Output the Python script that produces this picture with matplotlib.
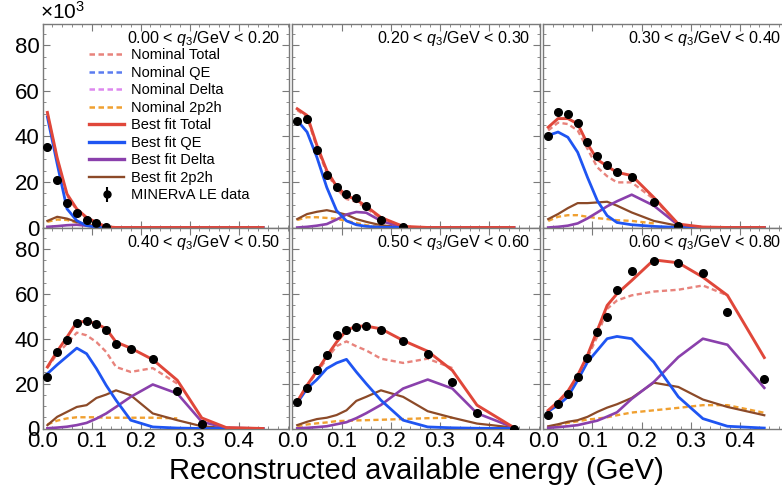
import numpy as np
import matplotlib
matplotlib.use('Agg')
import matplotlib.pyplot as plt
from matplotlib.ticker import MultipleLocator

plt.rcParams['font.family'] = ['Liberation Sans', 'DejaVu Sans']
plt.rcParams['mathtext.fontset'] = 'custom'
plt.rcParams['mathtext.rm'] = 'Liberation Sans'
plt.rcParams['mathtext.it'] = 'Liberation Sans:italic'

# bin centres of reconstructed available energy (GeV)
x_bins = [0.01, 0.03, 0.05, 0.07, 0.09, 0.11, 0.13, 0.15, 0.18, 0.225, 0.275, 0.325, 0.375, 0.45]

q3_ranges = [('0.00', '0.20'), ('0.20', '0.30'), ('0.30', '0.40'),
             ('0.40', '0.50'), ('0.50', '0.60'), ('0.60', '0.80')]

# values in units of 10^3
data_1 = [35.5, 21.0, 10.7, 6.3, 3.4, 1.8, 0.3]
fit_total_1 = [50.5, 30.5, 14.7, 8.1, 4.4, 2.2, 0.3, 0, 0, 0, 0, 0, 0, 0]
fit_qe_1 = [48.5, 27.9, 8.2, 3.0, 0.8, 0.2, 0, 0, 0, 0, 0, 0, 0, 0]
fit_delta_1 = [0.3, 0.6, 1.0, 1.2, 0.8, 0.3, 0, 0, 0, 0, 0, 0, 0, 0]
fit_2p2h_1 = [2.9, 4.7, 3.9, 2.4, 1.2, 0.5, 0.1, 0, 0, 0, 0, 0, 0, 0]
nom_total_1 = [50.0, 30.0, 14.0, 7.6, 4.0, 2.0, 0.3]
nom_2p2h_1 = [2.5, 3.5, 3.3, 2.2, 1.2, 0.5, 0.1]

data_2 = [46.7, 47.4, 34.2, 23.1, 17.6, 14.7, 12.9, 9.3, 3.4, 0.3]
fit_total_2 = [52.1, 49.2, 36.0, 25.0, 18.0, 14.0, 12.2, 9.3, 4.4, 0.5, 0, 0, 0, 0]
fit_qe_2 = [47.0, 41.9, 30.8, 17.6, 7.4, 2.9, 1.2, 0.5, 0.1, 0, 0, 0, 0, 0]
fit_delta_2 = [0.0, 0.3, 0.8, 1.5, 3.5, 5.7, 6.8, 6.5, 2.9, 0, 0, 0, 0, 0]
fit_2p2h_2 = [3.7, 5.9, 6.9, 7.6, 6.7, 5.6, 3.7, 2.5, 1.0, 0, 0, 0, 0, 0]
nom_total_2 = [51.5, 48.5, 35.0, 24.0, 17.0, 12.5, 11.3, 8.5, 4.0, 0.5]
nom_2p2h_2 = [3.3, 4.5, 4.5, 4.2, 3.8, 2.9, 2.0, 1.0, 0.3]

data_3 = [40.0, 50.7, 50.0, 46.0, 37.4, 31.3, 27.6, 24.5, 22.0, 11.0, 0.5]
fit_total_3 = [44.0, 47.8, 47.8, 45.5, 36.7, 29.8, 26.9, 24.2, 22.8, 13.2, 1.5, 0.2, 0, 0]
fit_qe_3 = [40.4, 41.9, 39.6, 33.0, 22.0, 11.8, 5.2, 2.2, 1.2, 0.5, 0, 0, 0, 0]
fit_delta_3 = [0.0, 0.3, 0.8, 1.8, 4.0, 6.6, 9.3, 11.5, 14.4, 9.6, 1.0, 0, 0, 0]
fit_2p2h_3 = [3.7, 5.9, 8.5, 10.7, 10.7, 11.0, 11.3, 9.6, 6.6, 2.9, 0.7, 0, 0, 0]
nom_total_3 = [42.6, 46.0, 45.4, 42.6, 34.5, 26.4, 22.5, 19.8, 19.8, 12.5, 1.5]
nom_2p2h_3 = [2.9, 4.7, 5.4, 5.4, 4.7, 4.1, 3.7, 3.2, 2.9, 1.8]

data_4 = [22.9, 34.1, 39.5, 46.9, 48.1, 46.7, 43.7, 37.8, 35.5, 30.8, 16.6, 1.9]
fit_total_4 = [27.4, 34.4, 40.7, 47.4, 47.7, 46.7, 44.4, 38.5, 35.8, 30.7, 21.5, 4.7, 0.4, 0]
fit_qe_4 = [24.4, 28.4, 32.1, 35.8, 33.3, 26.7, 19.2, 12.6, 3.7, 0.7, 0.2, 0, 0, 0]
fit_delta_4 = [0.1, 0.4, 0.8, 1.5, 2.5, 4.4, 6.7, 9.6, 14.1, 19.6, 15.6, 3.0, 0.3, 0]
fit_2p2h_4 = [1.5, 5.2, 7.4, 9.6, 10.4, 13.6, 15.1, 17.0, 14.8, 6.7, 3.7, 1.0, 0.2, 0]
nom_total_4 = [27.0, 33.3, 37.8, 42.7, 41.5, 38.5, 34.1, 27.4, 25.2, 26.9, 20.0]
nom_2p2h_4 = [1.8, 3.5, 4.5, 5.0, 5.0, 5.0, 4.8, 4.8, 4.8, 4.8, 4.5]

data_5 = [11.6, 18.2, 26.2, 32.6, 41.8, 44.0, 45.2, 45.5, 44.0, 38.8, 33.3, 20.7, 6.7, 0.0]
fit_total_5 = [12.0, 19.3, 25.6, 32.3, 38.5, 43.7, 45.6, 45.6, 44.4, 39.2, 34.4, 25.9, 10.4, 0.4]
fit_qe_5 = [11.4, 17.8, 21.8, 26.7, 29.2, 30.8, 25.2, 20.0, 12.6, 3.7, 0.7, 0.3, 0.1, 0]
fit_delta_5 = [0.1, 0.3, 0.6, 1.0, 1.9, 2.8, 4.6, 6.8, 10.5, 17.8, 21.8, 17.8, 6.8, 0.4]
fit_2p2h_5 = [1.5, 3.0, 4.2, 4.8, 6.0, 8.1, 12.3, 14.1, 17.0, 14.1, 7.7, 4.8, 2.2, 0.4]
nom_total_5 = [12.0, 19.0, 25.0, 31.0, 36.7, 38.8, 36.6, 34.8, 31.1, 29.2, 31.1, 26.9]
nom_2p2h_5 = [1.0, 1.8, 2.3, 2.7, 3.3, 3.4, 3.6, 3.7, 3.9, 4.2, 4.6, 4.8]

data_6 = [5.9, 10.8, 15.5, 22.9, 31.4, 43.2, 49.6, 61.5, 70.1, 74.8, 73.6, 69.2, 52.1, 21.9]
fit_total_6 = [8.1, 11.9, 16.6, 23.7, 32.6, 43.7, 54.8, 60.0, 65.9, 75.1, 73.8, 67.4, 59.3, 31.6]
fit_qe_6 = [7.6, 10.4, 14.1, 21.5, 29.6, 34.8, 40.0, 41.0, 40.0, 29.6, 14.1, 4.4, 1.0, 0.2]
fit_delta_6 = [0.3, 0.6, 1.0, 1.5, 2.5, 3.5, 5.3, 7.2, 13.2, 20.7, 31.8, 40.0, 37.3, 18.1]
fit_2p2h_6 = [1.0, 1.9, 3.0, 3.7, 5.2, 7.4, 9.3, 10.8, 13.6, 20.4, 18.5, 12.9, 9.6, 5.9]
nom_total_6 = [8.0, 11.5, 16.0, 23.0, 31.5, 41.0, 53.3, 57.0, 59.3, 61.0, 61.8, 63.7, 59.3]
nom_2p2h_6 = [0.5, 1.5, 2.5, 3.2, 4.0, 4.4, 5.0, 5.9, 7.1, 8.1, 9.2, 10.4, 10.4, 7.0]

panels = [
    (data_1, fit_total_1, fit_qe_1, fit_delta_1, fit_2p2h_1, nom_total_1, nom_2p2h_1),
    (data_2, fit_total_2, fit_qe_2, fit_delta_2, fit_2p2h_2, nom_total_2, nom_2p2h_2),
    (data_3, fit_total_3, fit_qe_3, fit_delta_3, fit_2p2h_3, nom_total_3, nom_2p2h_3),
    (data_4, fit_total_4, fit_qe_4, fit_delta_4, fit_2p2h_4, nom_total_4, nom_2p2h_4),
    (data_5, fit_total_5, fit_qe_5, fit_delta_5, fit_2p2h_5, nom_total_5, nom_2p2h_5),
    (data_6, fit_total_6, fit_qe_6, fit_delta_6, fit_2p2h_6, nom_total_6, nom_2p2h_6),
]

c_total = '#e0473a'
c_qe = '#1f55f2'
c_delta = '#8a40ac'
c_2p2h = '#8c4a28'
c_nom_total = '#e8837c'
c_nom_qe = '#5b7cf0'
c_nom_delta = '#dd88ee'
c_nom_2p2h = '#f0a030'
frame_col = '#7a7a7a'

W, H = 782, 501
fig = plt.figure(figsize=(W / 100, H / 100), dpi=100)

# panel boxes in pixels: left, top, right, bottom
col_px = [(42.5, 289.0), (292.3, 540.0), (543.3, 790.3)]
row_px = [(24.0, 227.5), (228.0, 428.5)]

dash = (0, (2.2, 1.4))

for k, vals in enumerate(panels):
    r, c = divmod(k, 3)
    x0, x1 = col_px[c]
    y0, y1 = row_px[r]
    ax = fig.add_axes([x0 / W, 1 - y1 / H, (x1 - x0) / W, (y1 - y0) / H])
    data, tot, qe, dl, mec, ntot, nmec = vals

    ax.plot(x_bins[:len(ntot)], ntot, color=c_nom_total, lw=1.7, ls=dash, zorder=2)
    ax.plot(x_bins[:len(nmec)], nmec, color=c_nom_2p2h, lw=1.7, ls=dash, zorder=2)
    ax.plot(x_bins[:len(mec)], mec, color=c_2p2h, lw=1.6, zorder=3)
    ax.plot(x_bins[:len(dl)], dl, color=c_delta, lw=1.9, zorder=3)
    ax.plot(x_bins[:len(qe)], qe, color=c_qe, lw=2.0, zorder=4)
    ax.plot(x_bins[:len(tot)], tot, color=c_total, lw=2.1, zorder=5)
    ax.plot(x_bins[:len(data)], data, 'o', color='black', ms=5.5, zorder=6)

    ax.set_xlim(0, 0.503)
    ax.set_ylim(0, 89.3)
    ax.set_xticks([0.0, 0.1, 0.2, 0.3, 0.4])
    ax.set_yticks([0, 20, 40, 60, 80])
    ax.xaxis.set_minor_locator(MultipleLocator(0.02))
    ax.yaxis.set_minor_locator(MultipleLocator(5))
    ax.set_xticklabels(['0.0', '0.1', '0.2', '0.3', '0.4'])
    ax.tick_params(which='both', direction='in', top=True, right=True,
                   color=frame_col, labelsize=16, pad=2,
                   labelleft=(c == 0), labelbottom=(r == 1))
    ax.tick_params(which='major', length=5, width=0.8)
    ax.tick_params(which='minor', length=2.5, width=0.6)
    for sp in ax.spines.values():
        sp.set_color(frame_col)
        sp.set_linewidth(1.0)

    lo, hi = q3_ranges[k]
    ax.text(0.963, 0.907, lo + r' < $q_3$/GeV < ' + hi, transform=ax.transAxes,
            ha='right', va='baseline', fontsize=11.6)

    if k == 0:
        h = []
        h.append(ax.plot([], [], color=c_nom_total, lw=1.8, ls=dash, label='Nominal Total')[0])
        h.append(ax.plot([], [], color=c_nom_qe, lw=1.8, ls=dash, label='Nominal QE')[0])
        h.append(ax.plot([], [], color=c_nom_delta, lw=1.8, ls=dash, label='Nominal Delta')[0])
        h.append(ax.plot([], [], color=c_nom_2p2h, lw=1.8, ls=dash, label='Nominal 2p2h')[0])
        h.append(ax.plot([], [], color=c_total, lw=2.4, label='Best fit Total')[0])
        h.append(ax.plot([], [], color=c_qe, lw=2.4, label='Best fit QE')[0])
        h.append(ax.plot([], [], color=c_delta, lw=2.4, label='Best fit Delta')[0])
        h.append(ax.plot([], [], color=c_2p2h, lw=1.7, label='Best fit 2p2h')[0])
        h.append(ax.errorbar([], [], yerr=[], fmt='o', color='black', ms=5,
                             label='MINERvA LE data'))
        ax.legend(handles=h, loc='upper left', bbox_to_anchor=(0.19, 0.88),
                  frameon=False, fontsize=10.5, handlelength=2.4,
                  handletextpad=0.45, labelspacing=0.24, borderpad=0,
                  borderaxespad=0)

fig.text(40 / W, 1 - 19 / H, r'$\times\mathregular{10^3}$', fontsize=15,
         ha='left', va='baseline')
fig.text(416 / W, 1 - 471 / H, 'Reconstructed available energy (GeV)',
         fontsize=21, ha='center', va='center')

fig.savefig('out.png', dpi=100)
